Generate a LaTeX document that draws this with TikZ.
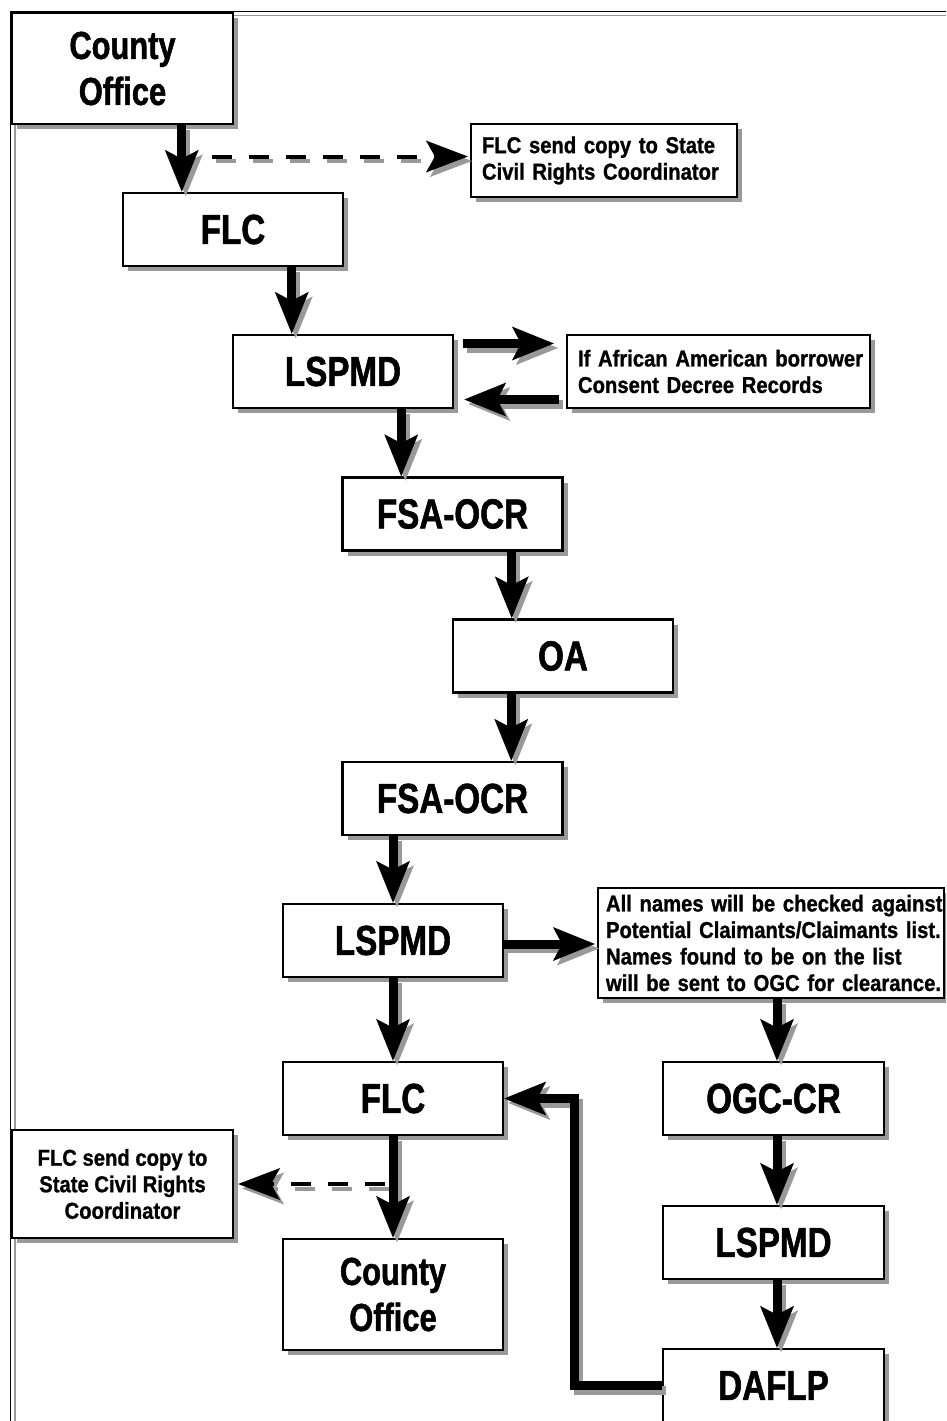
\documentclass[tikz,border=0pt]{standalone}
\usepackage{fontspec}
\newfontfamily\bfont[FakeStretch=0.79,BoldFeatures={FakeBold=1.3}]{Liberation Sans}
\newfontfamily\nfont[FakeStretch=0.88,BoldFeatures={FakeBold=1.0}]{Liberation Sans}
\usetikzlibrary{arrows.meta,calc,shadows}
\definecolor{shd}{gray}{0.6}
\newcommand\shdraw[2][]{%
  \begin{scope}[transform canvas={xshift=4pt,yshift=-4.5pt}]\draw[#1,color=shd] #2;\end{scope}%
  \draw[#1] #2;}
\tikzset{
  bx/.style={draw, line width=2.5pt, fill=white, inner sep=0pt,
    minimum width=220pt, minimum height=73pt,
    font=\bfont\bfseries\fontsize{42}{46}\selectfont,
    general shadow={fill=shd, shadow xshift=5pt, shadow yshift=-5pt}},
  tall/.style={minimum height=111pt, align=center,
    font=\bfont\bfseries\fontsize{39}{46}\selectfont},
  note/.style={draw, line width=2.2pt, fill=white, inner xsep=11pt, inner ysep=0pt,
    align=left, font=\nfont\bfseries\fontsize{23}{26.5}\selectfont,
    general shadow={fill=shd, shadow xshift=5pt, shadow yshift=-5pt}},
  arr/.style={line width=9pt, -{Stealth[length=42pt,width=34pt,inset=9pt,line width=0pt]}},
  darr/.style={line width=4pt, dash pattern=on 20pt off 17pt,
    -{Stealth[length=42pt,width=32pt,inset=9pt,line width=0pt]}},
}
\begin{document}
\begin{tikzpicture}[x=1pt,y=-1pt]
\clip (0,0) rectangle (946,1421);
\useasboundingbox (0,0) rectangle (946,1421);
\fill[white] (0,0) rectangle (946,1421);
% frame
\draw[line width=1.6pt] (10.5,11.5) rectangle (1100,1500);
\draw[shd,line width=1.8pt] (15,15.5) rectangle (1100,1500);
% boxes
\node[bx,tall,minimum width=221pt] (co1) at (122.5,68.5) {County\\Office};
\node[bx] (flc1) at (233,229.5) {FLC};
\node[note,text width=244pt,minimum height=73pt] (n1) at (604,160.5)
  {\mbox{FLC send copy to State}\\\mbox{Civil Rights Coordinator}};
\node[bx] (lsp1) at (343,371.5) {LSPMD};
\node[note,text width=281pt,minimum height=73pt] (n2) at (718.5,371.5)
  {\mbox{If African American borrower}\\\mbox{Consent Decree Records}};
\node[bx] (fsa1) at (452.5,514) {FSA-OCR};
\node[bx] (oa) at (563,656) {OA};
\node[bx] (fsa2) at (452.5,798.5) {FSA-OCR};
\node[bx] (lsp2) at (393,940.5) {LSPMD};
\node[note,text width=330pt,inner xsep=8pt,minimum height=110pt] (n3) at (771,943)
  {\mbox{All names will be checked against}\\\mbox{Potential Claimants/Claimants list.}\\\mbox{Names found to be on the list}\\\mbox{will be sent to OGC for clearance.}};
\node[bx] (flc2) at (393,1098.5) {FLC};
\node[bx,minimum width=221pt] (ogc) at (773.5,1098.5) {OGC-CR};
\node[note,align=center,inner xsep=0pt,minimum width=221pt,minimum height=108pt] (n4) at (122.5,1184)
  {FLC send copy to\\State Civil Rights\\Coordinator};
\node[bx,tall] (co2) at (393,1294.5) {County\\Office};
\node[bx,minimum width=221pt] (lsp3) at (773.5,1242.5) {LSPMD};
\node[bx,minimum width=221pt] (daf) at (773.5,1385.5) {DAFLP};
% connector targets
\coordinate (t1) at ($(flc1.north west)+(60,0)$);
\coordinate (t2) at ($(lsp1.north west)+(60,0)$);
\coordinate (t3) at ($(fsa1.north west)+(60,0)$);
\coordinate (t4) at ($(oa.north west)+(60,0)$);
\coordinate (t5) at ($(fsa2.north west)+(170,0)$);
\coordinate (t6) at ($(ogc.north)+(3.5,0)$);
\coordinate (t7) at ($(lsp3.north)+(3.5,0)$);
\coordinate (t8) at ($(daf.north)+(3.5,0)$);
\coordinate (bend) at ($(flc2.east)+(70,0)$);
% dashed arrows
\shdraw[darr]{($(n1.west -| t1)+(30,-4)$) -- ($(n1.west)+(-2,-4)$)}
\shdraw[darr]{($(n4.east -| co2.north)+(-8,0)$) -- ($(n4.east)+(4,0)$)}
% solid arrows
\shdraw[arr]{(co1.south -| t1) -- (t1)}
\shdraw[arr]{(flc1.south -| t2) -- (t2)}
\shdraw[arr]{($(lsp1.east)+(9,-28)$) -- ($(n2.west)+(-12,-28)$)}
\shdraw[arr]{($(n2.west)+(-7,28)$) -- ($(lsp1.east)+(10,28)$)}
\shdraw[arr]{(lsp1.south -| t3) -- (t3)}
\shdraw[arr]{(fsa1.south -| t4) -- (t4)}
\shdraw[arr]{(oa.south -| t5) -- (t5)}
\shdraw[arr]{(fsa2.south -| lsp2.north) -- (lsp2.north)}
\shdraw[arr]{($(lsp2.east)+(0,3.5)$) -- ($(n3.west)+(-2,1)$)}
\shdraw[arr]{(lsp2.south) -- (flc2.north)}
\shdraw[arr]{(flc2.south) -- (co2.north)}
\shdraw[arr]{(n3.south -| t6) -- (t6)}
\shdraw[arr]{(ogc.south -| t7) -- (t7)}
\shdraw[arr]{(lsp3.south -| t8) -- (t8)}
\shdraw[arr]{(daf.west) -| (bend) -- (flc2.east)}
\end{tikzpicture}
\end{document}
